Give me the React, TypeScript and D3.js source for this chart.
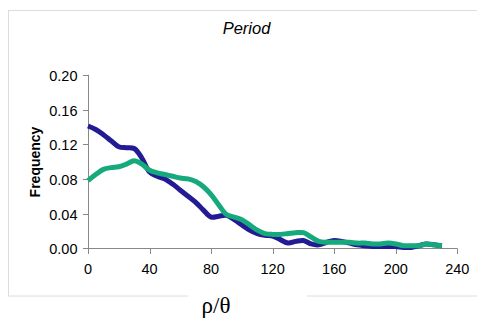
import React from "react";
import * as d3 from "d3";

// Period distribution, frequency per ρ/θ bin (step 5)
const periodBins = d3.range(0, 231, 5);
const seriesA = [
  0.141, 0.137, 0.131, 0.124, 0.117, 0.116, 0.115, 0.104, 0.088, 0.083,
  0.080, 0.074, 0.067, 0.060, 0.053, 0.044, 0.036, 0.037, 0.038, 0.033,
  0.027, 0.021, 0.017, 0.015, 0.014, 0.010, 0.006, 0.008, 0.009, 0.005,
  0.004, 0.007, 0.009, 0.008, 0.006, 0.004, 0.003, 0.002, 0.002, 0.002,
  0.002, 0.001, 0.001, 0.003, 0.005, 0.004, 0.003,
];
const seriesB = [
  0.078, 0.085, 0.091, 0.093, 0.094, 0.097, 0.101, 0.097, 0.090, 0.087,
  0.085, 0.083, 0.081, 0.080, 0.077, 0.071, 0.062, 0.050, 0.039, 0.036,
  0.033, 0.027, 0.021, 0.017, 0.016, 0.016, 0.017, 0.018, 0.018, 0.013,
  0.008, 0.007, 0.007, 0.007, 0.007, 0.006, 0.006, 0.005, 0.005, 0.006,
  0.005, 0.003, 0.003, 0.003, 0.005, 0.004, 0.003,
];
const xTicks = [0, 40, 80, 120, 160, 200, 240];
const yTicks = [0, 0.04, 0.08, 0.12, 0.16, 0.2];

export default function App() {
  const W = 477;
  const H = 320;
  const x = d3.scaleLinear().domain([0, 240]).range([88, 457.3]);
  const y = d3.scaleLinear().domain([0, 0.2]).range([248.3, 74.8]);
  const line = d3
    .line<number>()
    .x((_, i) => x(periodBins[i]))
    .y((d) => y(d))
    .curve(d3.curveCatmullRom.alpha(0.5));

  const font = "Arial, 'Liberation Sans', sans-serif";
  return (
    <svg
      width={W}
      height={H}
      style={{ position: "absolute", left: 0, top: 0, background: "#fff" }}
    >
      {/* chart frame */}
      <rect x={8.5} y={10.5} width={480} height={285.5} fill="none" stroke="#dcdcdc" strokeWidth={1} />
      <rect x={188} y={291} width={119} height={29} fill="#fff" />

      <text x={246.5} y={34} textAnchor="middle" fontFamily={font} fontSize={16.5} fontStyle="italic" fill="#000">
        Period
      </text>

      {/* y axis */}
      <line x1={88.5} x2={88.5} y1={y(0.2)} y2={y(0)} stroke="#888" />
      {yTicks.map((t) => (
        <g key={t}>
          <line x1={83} x2={88.5} y1={Math.round(y(t)) + 0.5} y2={Math.round(y(t)) + 0.5} stroke="#888" />
          <text x={77.5} y={y(t) + 6} textAnchor="end" fontFamily={font} fontSize={14.5} fill="#000">
            {t.toFixed(2)}
          </text>
        </g>
      ))}
      <text
        transform={`translate(40,162) rotate(-90)`}
        textAnchor="middle"
        fontFamily={font}
        fontSize={14}
        fontWeight="bold"
        fill="#000"
      >
        Frequency
      </text>

      {/* x axis */}
      <line x1={88} x2={457.5} y1={248.5} y2={248.5} stroke="#888" />
      {xTicks.map((t) => (
        <g key={t}>
          <line x1={Math.round(x(t)) + 0.5} x2={Math.round(x(t)) + 0.5} y1={248.5} y2={254} stroke="#888" />
          <text x={x(t)} y={273.5} textAnchor="middle" fontFamily={font} fontSize={14.5} fill="#000">
            {t}
          </text>
        </g>
      ))}
      <text x={216} y={312.5} textAnchor="middle" fontFamily="'Liberation Serif', 'DejaVu Serif', serif" fontSize={23} fill="#000">
        ρ/θ
      </text>

      {/* series */}
      <path d={line(seriesA) ?? ""} fill="none" stroke="#221b94" strokeWidth={5} strokeLinejoin="round" />
      <path d={line(seriesB) ?? ""} fill="none" stroke="#15a97b" strokeWidth={5} strokeLinejoin="round" />
    </svg>
  );
}
